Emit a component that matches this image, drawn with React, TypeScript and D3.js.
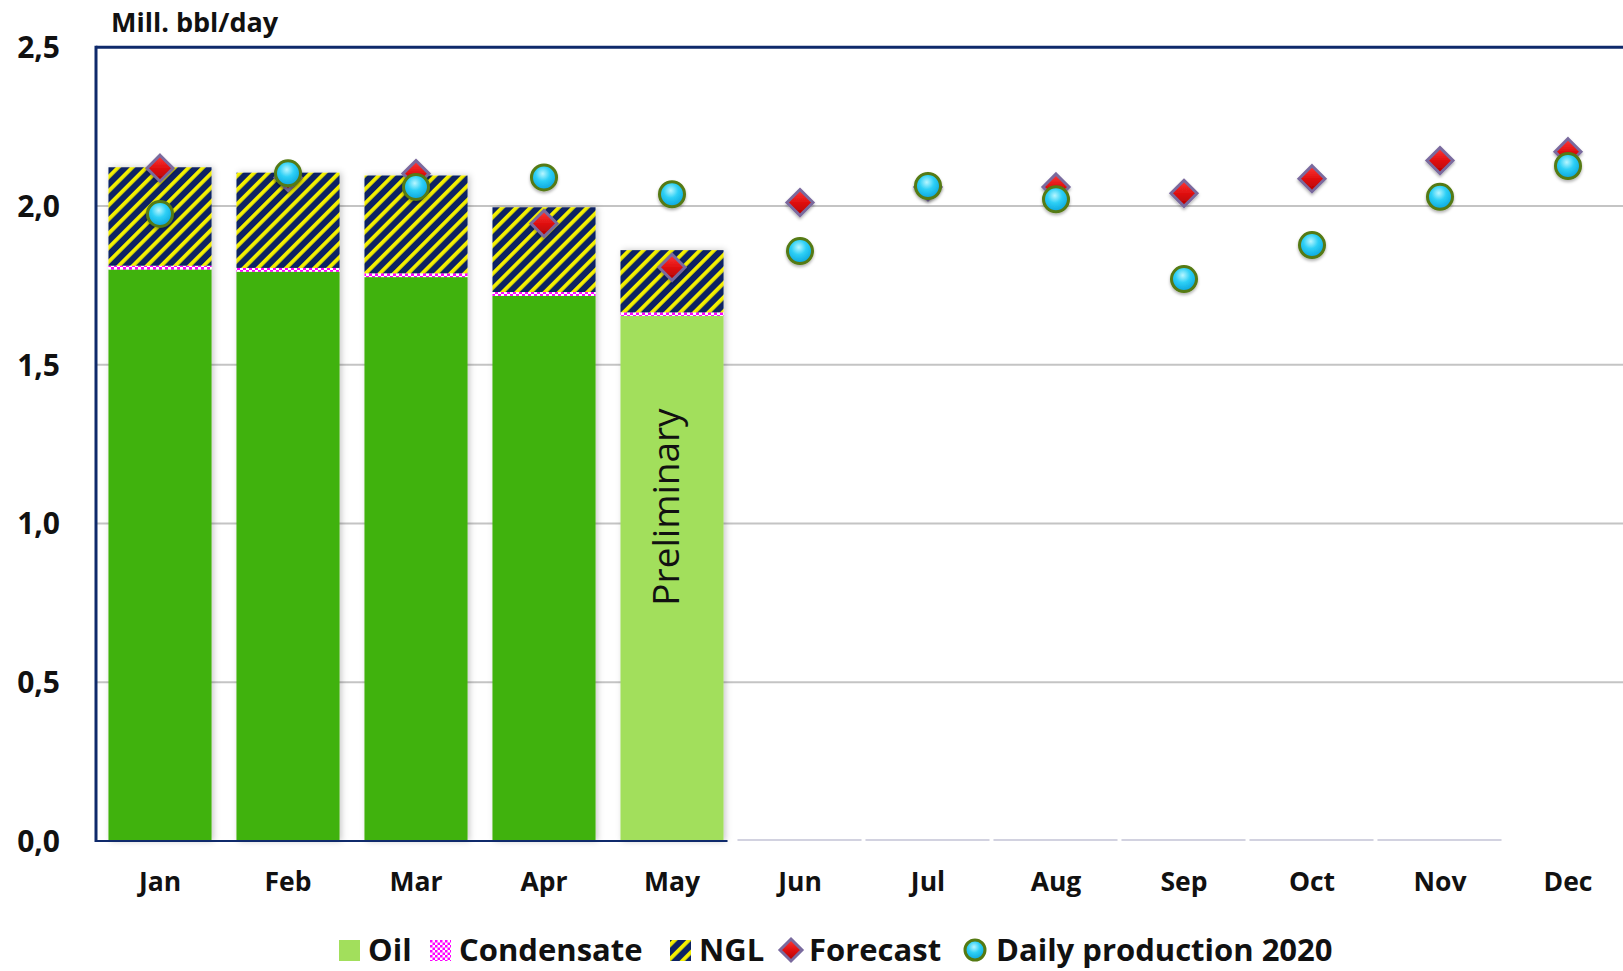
import React from "react";
import * as d3 from "d3";

const months = ["Jan", "Feb", "Mar", "Apr", "May", "Jun", "Jul", "Aug", "Sep", "Oct", "Nov", "Dec"];
const oil = [1.8, 1.793, 1.776, 1.717, 1.654];
const condensate = [0.012, 0.012, 0.012, 0.012, 0.011];
const ngl = [0.31, 0.3, 0.308, 0.267, 0.196];
const preliminary = [false, false, false, false, true];
const forecast = [2.119, 2.09, 2.102, 1.945, 1.807, 2.011, 2.06, 2.06, 2.04, 2.086, 2.143, 2.171];
const daily = [1.975, 2.103, 2.06, 2.09, 2.037, 1.858, 2.063, 2.021, 1.77, 1.877, 2.029, 2.126];
const yTicks = [0, 0.5, 1.0, 1.5, 2.0, 2.5];
const yTickLabels = ["0,0", "0,5", "1,0", "1,5", "2,0", "2,5"];
const unitLabel = "Mill. bbl/day";
const legendLabels = ["Oil", "Condensate", "NGL", "Forecast", "Daily production 2020"];

const W = 1623;
const H = 971;
const FONT = "'Open Sans', 'Liberation Sans', sans-serif";
const NAVY = "#0f2a6b";

export default function App() {
  const left = 96;
  const step = 128;
  const x = d3.scaleBand<string>().domain(months).range([left, left + step * months.length]).paddingInner(0.195).paddingOuter(0.0975);
  const y = d3.scaleLinear().domain([0, 2.5]).range([841, 47.25]);
  const bw = x.bandwidth();
  const cx = (m: string) => (x(m) as number) + bw / 2;

  const diamond = (r: number) => `M0,${-r}L${r},0L0,${r}L${-r},0Z`;

  const stackData = oil.map((o, i) => ({ m: months[i], oil: o, c: condensate[i], n: ngl[i], prelim: preliminary[i] }));

  const legendX = [339, 430, 670, 791, 975];
  const legendTextX = [368, 459, 699, 809, 996];
  const legendY = 950;

  const mayBandEnd = (x("May") as number) + bw + 4;

  return (
    <svg width={W} height={H} style={{ position: "absolute", left: 0, top: 0, background: "#fff" }} fontFamily={FONT}>
      <defs>
        <pattern id="ngl" width="10" height="10" patternUnits="userSpaceOnUse" patternTransform="rotate(45)">
          <rect width="10" height="10" fill="#0b2263" />
          <rect x="0" width="3.8" height="10" fill="#f4f000" />
        </pattern>
        <pattern id="cond" width="6" height="6" patternUnits="userSpaceOnUse">
          <rect width="6" height="6" fill="#ffffff" />
          <rect width="3" height="3" fill="#ff00ff" />
          <rect x="3" y="3" width="3" height="3" fill="#ff00ff" />
        </pattern>
        <pattern id="condLeg" width="5" height="5" patternUnits="userSpaceOnUse">
          <rect width="5" height="5" fill="#ffffff" />
          <rect width="2.5" height="2.5" fill="#ff00ff" />
          <rect x="2.5" y="2.5" width="2.5" height="2.5" fill="#ff00ff" />
        </pattern>
        <radialGradient id="ball" cx="0.45" cy="0.35" r="0.65">
          <stop offset="0" stopColor="#b8f6ff" />
          <stop offset="0.45" stopColor="#2ed0f6" />
          <stop offset="1" stopColor="#0aa4dc" />
        </radialGradient>
        <linearGradient id="gem" x1="0" y1="0" x2="0" y2="1">
          <stop offset="0" stopColor="#ff3a3a" />
          <stop offset="0.5" stopColor="#e01010" />
          <stop offset="1" stopColor="#b00000" />
        </linearGradient>
        <filter id="barShadow" x="-20%" y="-5%" width="140%" height="110%">
          <feDropShadow dx="2" dy="0" stdDeviation="3" floodColor="#000" floodOpacity="0.22" />
        </filter>
        <filter id="mkShadow" x="-50%" y="-50%" width="200%" height="200%">
          <feDropShadow dx="0" dy="2" stdDeviation="1.5" floodColor="#000" floodOpacity="0.3" />
        </filter>
      </defs>

      {yTicks.filter((t) => t > 0 && t < 2.5).map((t) => (
        <line key={t} x1={left} x2={W} y1={y(t)} y2={y(t)} stroke="#c4c4c4" strokeWidth={2} />
      ))}

      {stackData.map((d) => {
        const x0 = x(d.m) as number;
        const yOil = y(d.oil);
        const yCond = y(d.oil + d.c);
        const yTop = y(d.oil + d.c + d.n);
        return (
          <g key={d.m} filter="url(#barShadow)">
            <rect x={x0} y={yOil} width={bw} height={y(0) - yOil} fill={d.prelim ? "#a2df5c" : "#3fb20a"} />
            <rect x={x0} y={yCond} width={bw} height={yOil - yCond} fill="url(#cond)" />
            <rect x={x0} y={yTop} width={bw} height={yCond - yTop} fill="url(#ngl)" />
          </g>
        );
      })}

      {stackData.filter((d) => d.prelim).map((d) => (
        <text key={"p" + d.m} transform={`translate(${cx(d.m) + 7},${y(d.oil) + (y(0) - y(d.oil)) * 0.364}) rotate(-90)`} textAnchor="middle" fontSize={37} fill="#111">
          Preliminary
        </text>
      ))}

      <line x1={left} x2={left} y1={y(2.5) - 1.5} y2={y(0) + 1} stroke={NAVY} strokeWidth={3} />
      <line x1={left} x2={W} y1={y(2.5)} y2={y(2.5)} stroke={NAVY} strokeWidth={3} />
      <line x1={left} x2={mayBandEnd} y1={y(0)} y2={y(0)} stroke={NAVY} strokeWidth={2} />
      {months.slice(5, 11).map((m) => (
        <line key={"z" + m} x1={(x(m) as number) - 11} x2={(x(m) as number) + bw + 10} y1={y(0) - 1} y2={y(0) - 1} stroke="#d2d2e0" strokeWidth={2} />
      ))}

      {yTicks.map((t, i) => (
        <text key={"t" + t} x={60} y={y(t)} dy="0.36em" textAnchor="end" fontSize={30} fontWeight={700} fill="#111">
          {yTickLabels[i]}
        </text>
      ))}
      <text x={111} y={31.5} fontSize={27} fontWeight={700} fill="#111">{unitLabel}</text>

      {months.map((m) => (
        <text key={"x" + m} x={cx(m)} y={891} textAnchor="middle" fontSize={26.5} fontWeight={700} fill="#111">
          {m}
        </text>
      ))}

      {forecast.map((v, i) => (
        <path key={"f" + i} d={diamond(13)} transform={`translate(${cx(months[i])},${y(v)})`} fill="url(#gem)" stroke="#7a6a9e" strokeWidth={3} filter="url(#mkShadow)" />
      ))}

      {daily.map((v, i) => (
        <circle key={"d" + i} cx={cx(months[i])} cy={y(v)} r={12.5} fill="url(#ball)" stroke="#557a12" strokeWidth={3} filter="url(#mkShadow)" />
      ))}

      <g fontSize={31} fontWeight={700} fill="#111">
        <rect x={legendX[0]} y={legendY - 10} width={21} height={21} fill="#a2df5c" />
        <rect x={legendX[1]} y={legendY - 10} width={21} height={21} fill="url(#condLeg)" />
        <rect x={legendX[2]} y={legendY - 10} width={21} height={21} fill="url(#ngl)" />
        <path d={diamond(11)} transform={`translate(${legendX[3]},${legendY})`} fill="url(#gem)" stroke="#7a6a9e" strokeWidth={3} />
        <circle cx={legendX[4]} cy={legendY} r={10} fill="url(#ball)" stroke="#557a12" strokeWidth={3} />
        {legendLabels.map((l, i) => (
          <text key={"l" + l} x={legendTextX[i]} y={legendY} dy="0.36em">{l}</text>
        ))}
      </g>
    </svg>
  );
}
